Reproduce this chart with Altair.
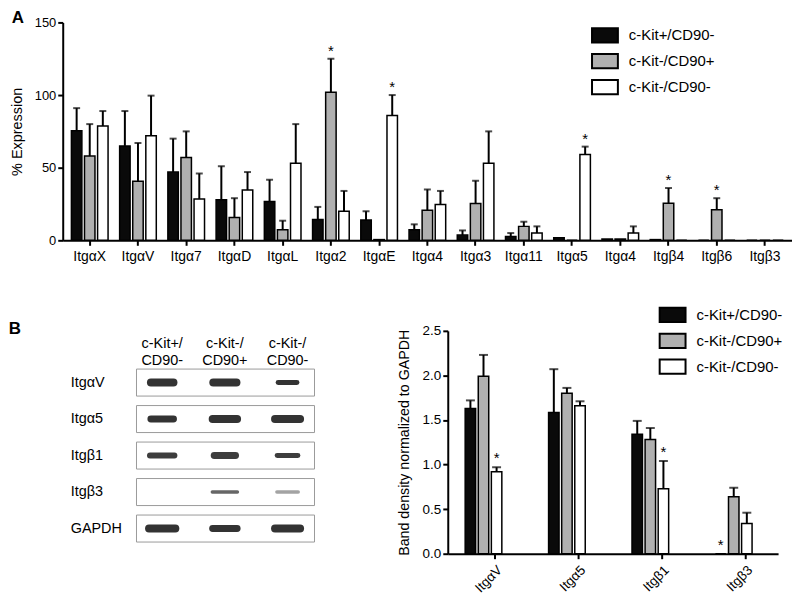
import json
import altair as alt
import pandas as pd

FONT = "Liberation Sans, Arial, Helvetica, sans-serif"

groups = ["c-Kit+/CD90-", "c-Kit-/CD90+", "c-Kit-/CD90-"]
colors = ["#0a0a0a", "#b0b0b0", "#ffffff"]

# ---------------- Panel A data ----------------
cats_a = ["ItgαX", "ItgαV", "Itgα7", "ItgαD", "ItgαL", "Itgα2", "ItgαE", "Itgα4",
          "Itgα3", "Itgα11", "Itgα5", "Itgα4", "Itgβ4", "Itgβ6", "Itgβ3"]
a_black = [75.5, 65, 47, 28, 26.7, 14.4, 14, 7.3, 3.6, 2.7, 1.8, 0.9, 0.5, 0, 0]
a_black_err = [15.5, 24, 23, 23, 15, 8.6, 6, 3.7, 3.2, 2.3, 0, 0, 0, 0, 0]
a_gray = [58, 40.6, 57, 15.7, 7.3, 102, 0.5, 20.7, 25.3, 9.6, 0, 0.9, 25.5, 21, 0]
a_gray_err = [22, 26.4, 18, 13.3, 6.2, 23, 0, 14.3, 15.7, 3.2, 0, 0, 10.5, 8, 0]
a_white = [78.7, 72, 28.5, 34.6, 53, 20, 86, 24.6, 53, 5, 59, 5, 0, 0, 0]
a_white_err = [10.3, 27.6, 17.5, 12.4, 27, 14, 14, 9.4, 22, 4.6, 5.5, 4.6, 0, 0, 0]
stars_a = [(5, "c-Kit-/CD90+"), (6, "c-Kit-/CD90-"), (10, "c-Kit-/CD90-"),
           (12, "c-Kit-/CD90+"), (13, "c-Kit-/CD90+")]

# ---------------- Panel B data ----------------
cats_b = ["ItgαV", "Itgα5", "Itgβ1", "Itgβ3"]
b_black = [1.63, 1.585, 1.34, 0]
b_black_err = [0.09, 0.485, 0.15, 0]
b_gray = [1.99, 1.80, 1.28, 0.64]
b_gray_err = [0.24, 0.06, 0.13, 0.10]
b_white = [0.92, 1.66, 0.73, 0.34]
b_white_err = [0.05, 0.05, 0.31, 0.12]
stars_b = [("ItgαV", "c-Kit-/CD90-"), ("Itgβ1", "c-Kit-/CD90-"), ("Itgβ3", "c-Kit+/CD90-")]

# ---------------- Blot data ----------------
blot_rows = ["ItgαV", "Itgα5", "Itgβ1", "Itgβ3", "GAPDH"]
lane_headers = ["c-Kit+/\nCD90-", "c-Kit-/\nCD90+", "c-Kit-/\nCD90-"]
band_len = [[0.36, 0.37, 0.30], [0.36, 0.39, 0.40], [0.39, 0.34, 0.33], [0, 0.40, 0.34], [0.42, 0.39, 0.40]]
band_thick = [[8, 8, 5], [7, 8, 8], [6, 7, 5], [0, 3.5, 3.5], [8, 7, 8]]
band_dark = [[1, 1, 1], [1, 1, 1], [0.95, 0.95, 0.95], [0, 0.75, 0.45], [1, 1, 1]]

# ---------------- tables ----------------
def long_table(cats, series, errs, stars, key):
    out = []
    for i, c in enumerate(cats):
        for g, vals, es in zip(groups, series, errs):
            k = i if key == "idx" else c
            out.append(dict(idx=i, cat=c, group=g, v=vals[i], hi=vals[i] + es[i],
                            star=(k, g) in stars))
    return pd.DataFrame(out)

df_a = long_table(cats_a, [a_black, a_gray, a_white], [a_black_err, a_gray_err, a_white_err], stars_a, "idx")
df_b = long_table(cats_b, [b_black, b_gray, b_white], [b_black_err, b_gray_err, b_white_err], stars_b, "cat")

axis_common = dict(domainColor="black", domainWidth=2, tickColor="black", tickWidth=2, tickSize=5,
                   labelColor="black", labelFont=FONT, titleFont=FONT, titleColor="black",
                   titleFontWeight="normal", grid=False)

def legend(x, y):
    return alt.Legend(title=None, orient="none", legendX=x, legendY=y,
                      symbolType="M-1,-0.55 L1,-0.55 L1,0.55 L-1,0.55 Z", symbolSize=676,
                      symbolStrokeColor="black", symbolStrokeWidth=2, symbolOpacity=1,
                      labelFont=FONT, labelFontSize=15, labelColor="black",
                      rowPadding=0, labelOffset=10)

# ---------------- Panel A ----------------
ysa = alt.Scale(domain=[0, 150], nice=False)
xa = alt.X("idx:O", scale=alt.Scale(paddingInner=0.24, paddingOuter=0.18),
           axis=alt.Axis(title=None, labelAngle=0, labelFontSize=14, labelPadding=4,
                         labelExpr=json.dumps(cats_a, ensure_ascii=False) + "[datum.value]", **axis_common))
xoa = alt.XOffset("group:N", sort=groups, scale=alt.Scale(paddingInner=0.2))
ya = alt.Y("v:Q", scale=ysa,
           axis=alt.Axis(title="% Expression", values=[0, 50, 100, 150], labelFontSize=13,
                         titleFontSize=14.5, titlePadding=10, **axis_common))
base_a = alt.Chart(df_a).encode(x=xa, xOffset=xoa)
bars_a = base_a.mark_bar(stroke="black", strokeWidth=1.5).encode(
    y=ya,
    color=alt.Color("group:N", sort=groups, scale=alt.Scale(domain=groups, range=colors), legend=legend(531, -1)))
err_a = base_a.transform_filter("datum.hi > datum.v").mark_rule(color="black", strokeWidth=2).encode(
    y=alt.Y("v:Q", scale=ysa), y2="hi:Q")
cap_a = base_a.transform_filter("datum.hi > datum.v").mark_tick(
    color="black", thickness=2, size=7, orient="horizontal").encode(y=alt.Y("hi:Q", scale=ysa))
star_a = base_a.transform_filter("datum.star").mark_text(
    text="*", font=FONT, fontSize=15, dy=-8, baseline="middle", color="black").encode(
    y=alt.Y("hi:Q", scale=ysa))
lab_a = alt.Chart(pd.DataFrame({"t": ["A"]})).mark_text(
    font=FONT, fontSize=17, fontWeight="bold", color="black").encode(
    text="t:N", x=alt.value(-45), y=alt.value(-4))
chart_a = alt.layer(bars_a, err_a, cap_a, star_a, lab_a).properties(width=733, height=219)

# ---------------- Panel B chart ----------------
ysb = alt.Scale(domain=[0, 2.5], nice=False)
xb = alt.X("cat:N", sort=cats_b, scale=alt.Scale(paddingInner=0.28, paddingOuter=0.12, align=0.87),
           axis=alt.Axis(title=None, labelAngle=-45, labelFontSize=13.5, labelPadding=4, **axis_common))
xob = alt.XOffset("group:N", sort=groups, scale=alt.Scale(paddingInner=0.27))
yb = alt.Y("v:Q", scale=ysb,
           axis=alt.Axis(title="Band density normalized to GAPDH", values=[0, 0.5, 1, 1.5, 2, 2.5],
                         format=".1f", labelFontSize=13.5, titleFontSize=14.3, titlePadding=11,
                         **axis_common))
base_b = alt.Chart(df_b).encode(x=xb, xOffset=xob)
bars_b = base_b.mark_bar(stroke="black", strokeWidth=1.5).encode(
    y=yb,
    color=alt.Color("group:N", sort=groups, scale=alt.Scale(domain=groups, range=colors), legend=legend(212, -30)))
err_b = base_b.transform_filter("datum.hi > datum.v").mark_rule(color="black", strokeWidth=2).encode(
    y=alt.Y("v:Q", scale=ysb), y2="hi:Q")
cap_b = base_b.transform_filter("datum.hi > datum.v").mark_tick(
    color="black", thickness=2, size=9, orient="horizontal").encode(y=alt.Y("hi:Q", scale=ysb))
star_b = base_b.transform_filter("datum.star").mark_text(
    text="*", font=FONT, fontSize=15, dy=-9, baseline="middle", color="black").encode(
    y=alt.Y("hi:Q", scale=ysb))
chart_b = alt.layer(bars_b, err_b, cap_b, star_b).properties(width=332, height=224)

# ---------------- Blot ----------------
lanes = [0, 1, 2]
box_rows = pd.DataFrame({"row": list(range(len(blot_rows))), "name": blot_rows})
box_rows["x1"] = lanes[0] - 0.41
box_rows["x2"] = lanes[-1] + 0.43
box_rows["y1"] = box_rows["row"] - 0.37
box_rows["y2"] = box_rows["row"] + 0.37
box_rows["lx"] = lanes[0] - 1.46

bands = []
for r in range(len(blot_rows)):
    for j, ln in enumerate(lanes):
        if band_len[r][j] > 0:
            bands.append(dict(row=r, bx1=ln - band_len[r][j] / 2, bx2=ln + band_len[r][j] / 2,
                              th=band_thick[r][j], dark=band_dark[r][j]))
bands = pd.DataFrame(bands)
heads = pd.DataFrame({"lane": lanes, "h": lane_headers, "hy": -1.05})

bx = alt.Scale(domain=[-1.587, 2.54], nice=False, zero=False)
by = alt.Scale(domain=[-1.417, 4.69], reverse=True, nice=False, zero=False)
boxes = alt.Chart(box_rows).mark_rect(fill="white", stroke="#9a9a9a", strokeWidth=1).encode(
    x=alt.X("x1:Q", scale=bx, axis=None), x2="x2:Q",
    y=alt.Y("y1:Q", scale=by, axis=None), y2="y2:Q")
row_lab = alt.Chart(box_rows).mark_text(align="left", baseline="middle", font=FONT, fontSize=14.5,
                                        color="black").encode(
    x=alt.X("lx:Q", scale=bx, axis=None), y=alt.Y("row:Q", scale=by, axis=None), text="name:N")
band_m = alt.Chart(bands).mark_rule(color="#333333", strokeCap="round").encode(
    x=alt.X("bx1:Q", scale=bx, axis=None), x2="bx2:Q",
    y=alt.Y("row:Q", scale=by, axis=None),
    strokeWidth=alt.StrokeWidth("th:Q", scale=None),
    opacity=alt.Opacity("dark:Q", scale=None))
head_m = alt.Chart(heads).mark_text(align="center", baseline="middle", lineBreak="\n", lineHeight=17,
                                    font=FONT, fontSize=14.5, color="black").encode(
    x=alt.X("lane:Q", scale=bx, axis=None), y=alt.Y("hy:Q", scale=by, axis=None), text="h:N")
lab_b = alt.Chart(pd.DataFrame({"t": ["B"]})).mark_text(
    font=FONT, fontSize=17, fontWeight="bold", color="black").encode(
    text="t:N", x=alt.value(-48), y=alt.value(-2))
blot = alt.layer(boxes, band_m, row_lab, head_m, lab_b).properties(width=260, height=224)

row_b = alt.hconcat(blot, chart_b, spacing=76).resolve_scale(color="independent").resolve_legend(color="independent")
chart = alt.vconcat(chart_a, row_b, spacing=38).resolve_scale(color="independent").resolve_legend(
    color="independent").properties(padding=0, background="white").configure_view(stroke=None)

chart.save("out.html", embed_options={"renderer": "svg", "actions": False})
